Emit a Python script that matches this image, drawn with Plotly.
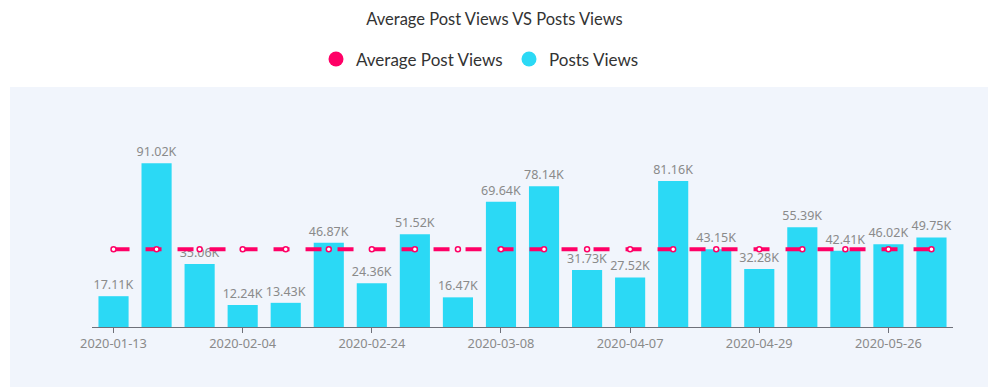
import plotly.graph_objects as go

dates = ["2020-01-13", "2020-01-20", "2020-01-28", "2020-02-04", "2020-02-11",
         "2020-02-18", "2020-02-24", "2020-02-28", "2020-03-03", "2020-03-08",
         "2020-03-16", "2020-03-27", "2020-04-07", "2020-04-14", "2020-04-22",
         "2020-04-29", "2020-05-08", "2020-05-17", "2020-05-26", "2020-06-02"]
post_views = [17.11, 91.02, 35.06, 12.24, 13.43, 46.87, 24.36, 51.52, 16.47, 69.64,
              78.14, 31.73, 27.52, 81.16, 43.15, 32.28, 55.39, 42.41, 46.02, 49.75]
avg_value = round(sum(post_views) / len(post_views), 2)
avg_views = [avg_value] * len(dates)
tick_labels = ["2020-01-13", "2020-02-04", "2020-02-24", "2020-03-08",
               "2020-04-07", "2020-04-29", "2020-05-26"]

PINK = "#ff0066"
CYAN = "#2bd9f5"
LABEL_FONT = "Noto Sans, Open Sans, sans-serif"
MAIN_FONT = "Lato, Noto Sans, sans-serif"

W, H = 988, 384  # page body adds an 8px margin

fig = go.Figure()

fig.add_trace(go.Bar(
    x=dates, y=post_views, name="Posts Views",
    marker=dict(color=CYAN, line=dict(width=0)),
    width=0.7,
    texttemplate="%{y:.2f}K", textposition="outside", constraintext="none",
    textfont=dict(family=LABEL_FONT, size=12.5, color="#8a8a8a"),
    cliponaxis=False, showlegend=False,
))

fig.add_trace(go.Scatter(
    x=dates, y=avg_views, name="Average Post Views",
    mode="lines+markers",
    line=dict(color=PINK, width=4, dash="16px,16px"),
    marker=dict(symbol="circle", size=5, color="white", line=dict(color=PINK, width=1.5)),
    cliponaxis=False, showlegend=False,
))

# legend entries (circle icons)
fig.add_trace(go.Scatter(x=[None], y=[None], mode="markers", name="Average Post Views",
                         marker=dict(symbol="circle", size=15, color=PINK)))
fig.add_trace(go.Scatter(x=[None], y=[None], mode="markers", name="Posts Views",
                         marker=dict(symbol="circle", size=15, color=CYAN)))

fig.add_shape(type="rect", xref="paper", yref="paper",
              x0=-0.0952, x1=1.0453, y0=-0.3333, y1=1.3333,
              fillcolor="#f1f5fc", line=dict(width=0), layer="below")

fig.update_layout(
    width=W, height=H,
    margin=dict(l=84, r=43, t=139, b=65),
    paper_bgcolor="white", plot_bgcolor="rgba(0,0,0,0)",
    title=dict(text="Average Post Views VS Posts Views", xref="container", x=486.5 / W,
               xanchor="center", yref="container", y=1 - 11 / H, yanchor="middle",
               font=dict(family=MAIN_FONT, size=16.5, color="#333333")),
    legend=dict(orientation="h", xref="container", x=308 / W, xanchor="left",
                yref="container", y=1 - 51.5 / H, yanchor="middle",
                font=dict(family=MAIN_FONT, size=17, color="#333333"),
                itemsizing="trace", bgcolor="rgba(0,0,0,0)", entrywidth=148),
    bargap=0.3,
    showlegend=True,
)

fig.update_xaxes(
    type="category", tickmode="array", tickvals=tick_labels, ticktext=tick_labels,
    range=[-0.5, len(dates) - 0.5],
    showline=True, linecolor="#6e7079", linewidth=1,
    ticks="outside", ticklen=5, tickcolor="#6e7079",
    tickfont=dict(family=LABEL_FONT, size=12.8, color="#8a8a8a"),
    showgrid=False, zeroline=False,
)
fig.update_yaxes(range=[0, 100], visible=False, showgrid=False, zeroline=False)

fig.write_html("out.html")
